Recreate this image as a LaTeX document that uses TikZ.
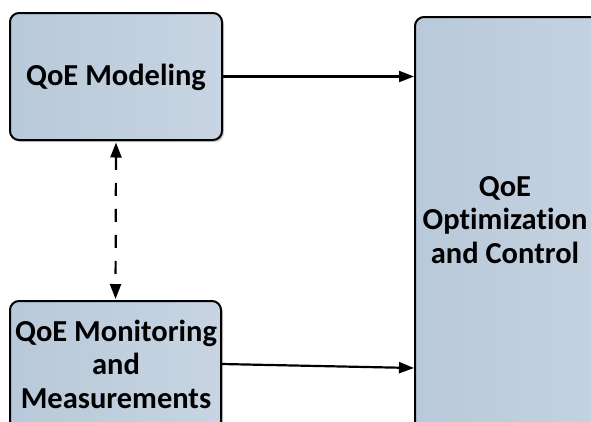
\documentclass[tikz,border=0pt]{standalone}
\usepackage{fontspec}
\setmainfont{Carlito}[Ligatures=NoCommon]
\usetikzlibrary{arrows.meta,shadows}
\definecolor{boxA}{RGB}{184,201,217}
\definecolor{boxB}{RGB}{200,212,226}
\begin{document}
\begin{tikzpicture}[x=1pt,y=-1pt,
  panel/.style={draw=black, line width=2pt, rounded corners=9pt,
    left color=boxA, right color=boxB, inner sep=0pt,
    drop shadow={shadow xshift=2pt, shadow yshift=-2pt, opacity=0.2, fill=black}},
  lbl/.style={font=\bfseries\fontsize{30.5}{33.5}\selectfont, align=center, text=black},
  conn/.style={line width=2.2pt, -{Triangle[length=15pt,width=11pt]}},
  dconn/.style={line width=2.2pt, dash pattern=on 13pt off 13pt,
    {Triangle[length=15pt,width=11pt]}-{Triangle[length=15pt,width=11pt]}}
]
\useasboundingbox (0,0) rectangle (591,421);
\clip (0,0) rectangle (591,421);
\node[panel, minimum width=212pt, minimum height=127pt] (m) at (116,76.5) {};
\node[panel, minimum width=211pt, minimum height=140pt] (b) at (115.5,371) {};
\node[panel, minimum width=230pt, minimum height=460pt] (o) at (530,247) {};
\node[lbl] (mt) at (116,77) {QoE Modeling};
\node[lbl] (bt) at (116,364) {QoE Monitoring\\and\\Measurements};
\node[lbl] (ot) at (505,220) {QoE\\Optimization\\and Control};
\draw[conn] (m.east) -- (m.east -| o.west);
\coordinate (bs) at (b.east |- 0,364);
\coordinate (be) at (o.west |- 0,368);
\draw[conn] (bs) -- (be);
\draw[dconn, shorten <=1.5pt, shorten >=1pt] (m.south) -- (b.north);
\end{tikzpicture}
\end{document}
